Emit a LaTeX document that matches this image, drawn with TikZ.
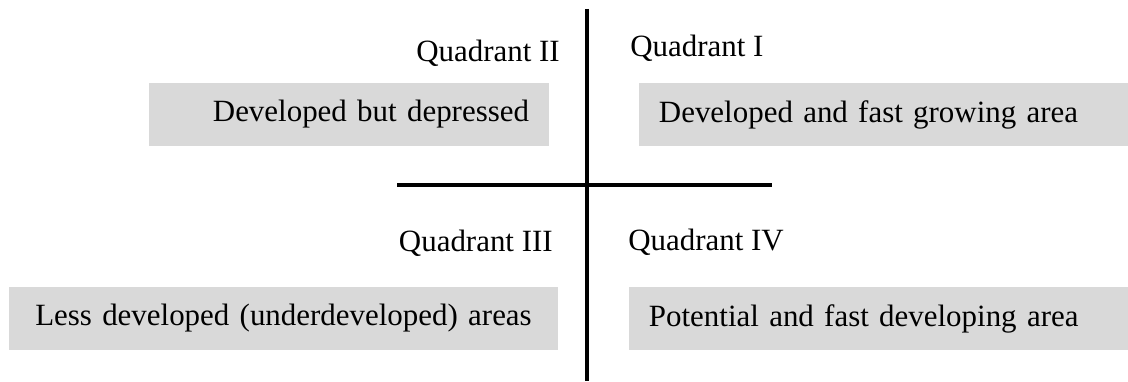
\documentclass[tikz,border=0pt]{standalone}
\usepackage{fontspec}
\setmainfont{Liberation Serif}
\definecolor{boxgray}{HTML}{D9D9D9}

\begin{document}
\begin{tikzpicture}[x=0.025cm, y=-0.025cm,
			every node/.style={font=\fontsize{22}{26}\selectfont},
			quadname/.style={inner sep=0pt},
			area/.style={rectangle, fill=boxgray, minimum height=1.575cm, inner xsep=0.5cm, inner ysep=0pt, text width=#1},
			axis/.style={draw=black, line width=3.2pt}]
			\useasboundingbox (0,0) rectangle (1128,381);
			
			% axes
			\coordinate (top) at (587,9);
			\coordinate (bottom) at (587,381);
			\coordinate (left) at (397,185);
			\coordinate (right) at (772,185);
			\draw[axis] (top) -- (bottom);
			\draw[axis] (left) -- (right);
			
			% upper half
			\node[quadname, anchor=base east] (q2) at (560,62) {Quadrant II};
			\node[quadname, anchor=base west] (q1) at (630,57) {Quadrant I};
			\node[area=9cm, align=right] (depressed) at (349,114.5) {Developed but depressed};
			\node[area=11.225cm, align=left] (growing) at (883.5,114.5) {Developed and fast growing area};
			
			% lower half
			\node[quadname, anchor=base east] (q3) at (553,251) {Quadrant III};
			\node[quadname, anchor=base west] (q4) at (628,250) {Quadrant IV};
			\node[area=12.725cm, align=center] (under) at (283.5,318.5) {Less developed (underdeveloped) areas};
			\node[area=11.475cm, align=left] (potential) at (878.5,318.5) {Potential and fast developing area};
\end{tikzpicture}
\end{document}
